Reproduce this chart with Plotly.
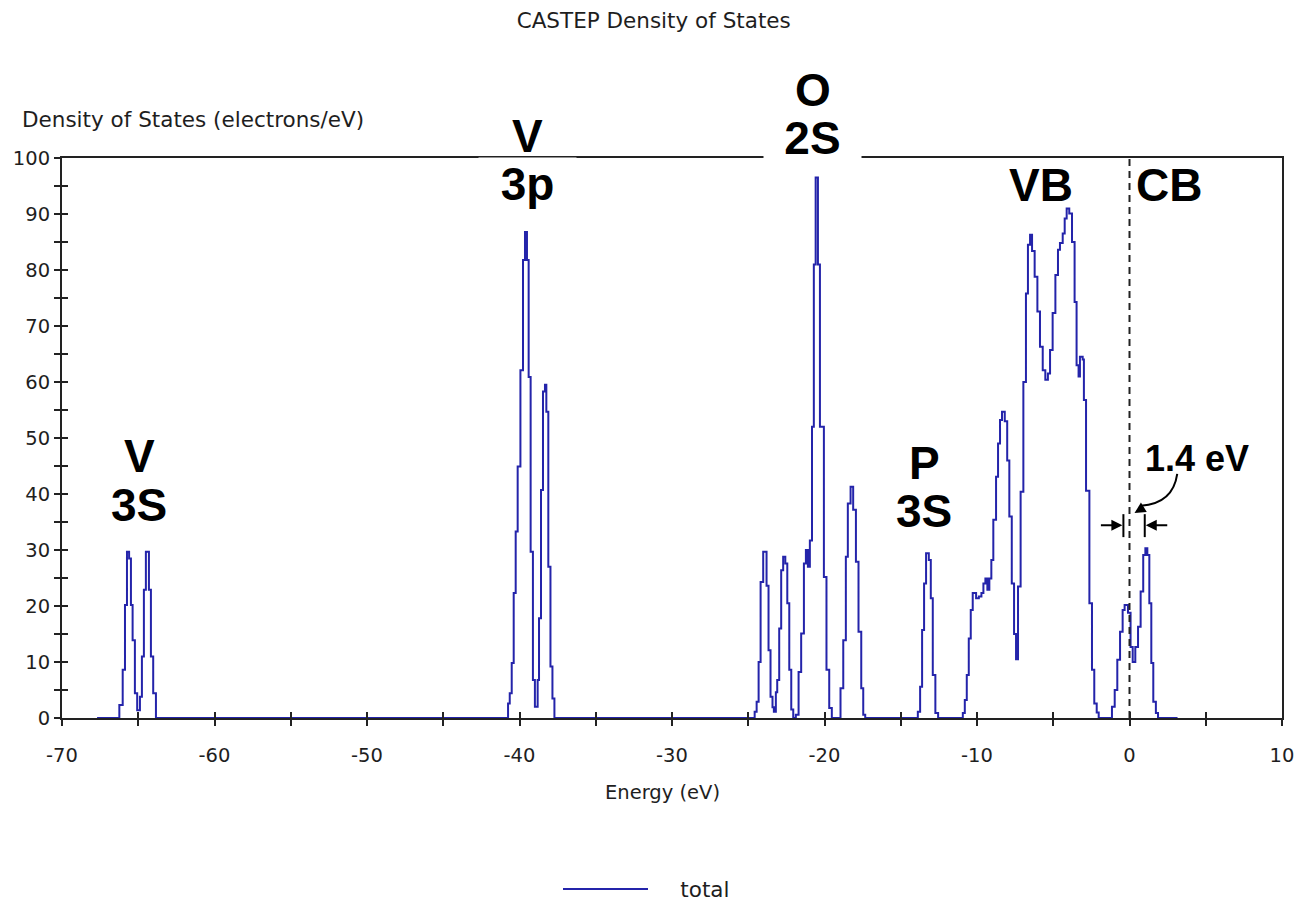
import plotly.graph_objects as go

# Total density of states (electrons/eV) against energy (eV), stepwise bins.
# Each band group is listed separately; the curve is zero between groups.
e_window = [-67.7, 3.15]

e_v3s = [-66.24, -66.02, -65.87, -65.74, -65.60, -65.48, -65.37, -65.22, -65.07,
         -64.89, -64.76, -64.63, -64.50, -64.30, -64.17, -64.02, -63.84]
dos_v3s = [2.3, 8.6, 20.2, 29.7, 28.5, 20.2, 13.9, 4.4, 1.4,
           3.8, 11.0, 22.9, 29.7, 22.9, 11.0, 4.4, 0.0]

e_v3p = [-40.75, -40.64, -40.51, -40.38, -40.25, -40.12, -39.94, -39.77, -39.64,
         -39.51, -39.40, -39.27, -39.12, -38.99, -38.81, -38.72, -38.59, -38.46,
         -38.33, -38.24, -38.11, -37.97, -37.84, -37.71]
dos_v3p = [2.6, 4.4, 9.8, 22.3, 33.3, 44.9, 62.1, 81.8, 86.8,
           81.8, 60.9, 29.7, 6.8, 2.0, 6.8, 17.8, 40.7, 58.3,
           59.5, 54.7, 27.0, 9.2, 3.5, 0.0]

e_o2s = [-24.58, -24.45, -24.32, -24.19, -24.02, -23.80, -23.67, -23.54, -23.41,
         -23.32, -23.19, -23.10, -22.97, -22.84, -22.71, -22.57, -22.44, -22.31,
         -22.18, -22.05, -21.88, -21.70, -21.53, -21.35, -21.22, -21.09, -20.96,
         -20.82, -20.70, -20.58, -20.43, -20.30, -20.04, -19.87, -19.69, -19.52,
         -18.95, -18.77, -18.60, -18.47, -18.29, -18.12, -17.94, -17.77, -17.59,
         -17.46, -17.33]
dos_o2s = [1.1, 2.9, 10.0, 24.3, 29.7, 23.6, 12.1, 3.8, 1.9,
           1.1, 4.6, 6.8, 16.0, 26.4, 28.8, 27.6, 20.5, 8.6,
           1.5, 0.0, 0.6, 8.2, 15.1, 27.6, 30.0, 27.0, 31.7,
           52.0, 81.0, 96.5, 81.0, 52.0, 25.2, 8.6, 1.8, 0.0,
           5.3, 13.9, 28.8, 38.3, 41.3, 37.2, 27.9, 15.4, 5.3,
           0.6, 0.0]

e_p3s = [-13.88, -13.73, -13.60, -13.47, -13.34, -13.16, -13.03, -12.90, -12.73, -12.55]
dos_p3s = [1.1, 5.6, 15.7, 24.0, 29.4, 28.2, 21.4, 7.7, 0.9, 0.0]

e_vb = [-10.93, -10.80, -10.67, -10.54, -10.41, -10.28, -10.06, -9.88, -9.71, -9.58,
        -9.45, -9.32, -9.19, -9.06, -8.93, -8.75, -8.62, -8.49, -8.36, -8.18,
        -8.02, -7.88, -7.72, -7.57, -7.44, -7.31, -7.14, -6.96, -6.79, -6.66,
        -6.52, -6.39, -6.22, -6.04, -5.87, -5.69, -5.52, -5.35, -5.21, -5.04,
        -4.86, -4.69, -4.56, -4.38, -4.25, -4.12, -3.95, -3.77, -3.60, -3.47,
        -3.34, -3.25, -3.07, -2.99, -2.85, -2.63, -2.46, -2.31, -2.15, -2.02]
dos_vb = [0.9, 3.2, 7.7, 14.2, 19.3, 22.3, 21.4, 21.7, 22.3, 24.0,
          24.9, 22.9, 24.9, 28.2, 35.4, 43.1, 49.0, 53.2, 54.7, 53.0,
          46.0, 36.0, 24.0, 15.0, 10.5, 23.5, 40.4, 60.0, 75.8, 84.5,
          86.3, 83.4, 78.8, 72.6, 66.3, 62.1, 60.4, 61.5, 65.7, 72.3,
          79.1, 83.6, 84.8, 86.5, 89.2, 91.0, 90.1, 85.0, 74.3, 63.0,
          61.0, 64.5, 64.0, 56.8, 40.6, 20.5, 8.6, 2.6, 1.0, 0.0]

e_cb = [-1.15, -0.97, -0.80, -0.62, -0.45, -0.32, -0.10, 0.07, 0.21, 0.38,
        0.56, 0.73, 0.90, 1.04, 1.17, 1.30, 1.43, 1.56, 1.73, 1.87]
dos_cb = [2.0, 5.0, 10.4, 15.4, 19.3, 20.2, 18.8, 12.7, 10.0, 12.7,
          16.3, 22.6, 29.1, 30.3, 29.1, 20.5, 9.8, 2.9, 0.9, 0.0]

x_tickvals = [-70, -60, -50, -40, -30, -20, -10, 0, 10]
x_ticktext = ["-70", "-60", "-50", "-40", "-30", "-20", "-10", "0", "10"]
y_tickvals = [0, 10, 20, 30, 40, 50, 60, 70, 80, 90, 100]

fermi_level = 0.0
band_gap = 1.4          # eV
gap_low = -0.40         # lower edge of the marked gap
gap_high = gap_low + band_gap

energy = ([e_window[0]] + e_v3s + e_v3p + e_o2s + e_p3s + e_vb + e_cb + [e_window[1]])
dos = ([0.0] + dos_v3s + dos_v3p + dos_o2s + dos_p3s + dos_vb + dos_cb + [0.0])

LINE_BLUE = "#2424aa"
INK = "#1e1e1e"
AXIS = "#222222"
SMALL = dict(family="DejaVu Sans", size=19.5, color=INK)
MEDIUM = dict(family="DejaVu Sans", size=21.5, color=INK)
BIG = dict(family="Liberation Sans", size=46, color="#000000", weight="bold")

fig = go.Figure()
fig.add_trace(go.Scatter(
    x=energy, y=dos, mode="lines", name="\u00a0\u00a0\u00a0\u00a0total",
    line=dict(color=LINE_BLUE, width=2, shape="hv"),
    xaxis="x", yaxis="y",
))
# empty companion trace so the overlay axes (inner tick halves) get drawn
fig.add_trace(go.Scatter(x=[], y=[], xaxis="x2", yaxis="y2", showlegend=False,
                         hoverinfo="skip"))

tick_common = dict(tickwidth=2, tickcolor=AXIS, ticklen=6)
minor_out = dict(dtick=5, tick0=0, ticks="outside", showgrid=False, **tick_common)
minor_in = dict(dtick=5, tick0=0, ticks="inside", showgrid=False, **tick_common)
fig.update_layout(
    template="none",
    width=1297, height=905,
    paper_bgcolor="white", plot_bgcolor="white",
    margin=dict(l=62, r=15, t=158, b=187, autoexpand=False),
    font=SMALL,
    title=dict(text="CASTEP Density of States", font=MEDIUM,
               x=0.504, xref="container", xanchor="center",
               y=1 - 20 / 905, yref="container", yanchor="middle"),
    showlegend=True,
    legend=dict(orientation="h", x=558 / 1297, xref="container", xanchor="left",
                y=1 - 889 / 905, yref="container", yanchor="middle",
                font=MEDIUM, itemwidth=85, bgcolor="rgba(0,0,0,0)"),
    xaxis=dict(range=[-70, 10], tickmode="array", tickvals=x_tickvals,
               ticktext=x_ticktext, showgrid=False, zeroline=False, automargin=False,
               showline=True, linecolor=AXIS, linewidth=2, mirror=True,
               ticks="outside", **tick_common, minor=minor_out,
               tickfont=SMALL, ticklabelstandoff=13, layer="below traces"),
    yaxis=dict(range=[0, 100], tickmode="array", tickvals=y_tickvals,
               showgrid=False, zeroline=False, automargin=False,
               showline=True, linecolor=AXIS, linewidth=2, mirror=True,
               ticks="outside", **tick_common, minor=minor_out,
               tickfont=SMALL, ticklabelstandoff=0, layer="below traces"),
    # inward halves of the crossing tick marks
    xaxis2=dict(range=[-70, 10], tickmode="array", tickvals=x_tickvals,
                overlaying="x", anchor="y2", side="bottom", automargin=False,
                showgrid=False, zeroline=False, showline=False,
                ticks="inside", **tick_common, showticklabels=False, minor=minor_in),
    yaxis2=dict(range=[0, 100], tickmode="array", tickvals=y_tickvals,
                overlaying="y", anchor="x2", side="left", automargin=False,
                showgrid=False, zeroline=False, showline=False,
                ticks="inside", **tick_common, showticklabels=False, minor=minor_in),
)

# Fermi level marker
fig.add_shape(type="line", xref="x", yref="y", x0=fermi_level, x1=fermi_level,
              y0=0, y1=100, line=dict(color=AXIS, width=2, dash="7px,5px"))

# Axis titles
fig.add_annotation(text="Density of States (electrons/eV)", xref="paper", yref="paper",
                   x=(20 - 62) / 1220, y=(718 - 119) / 560, xanchor="left",
                   yanchor="middle", showarrow=False, font=MEDIUM)
fig.add_annotation(text="Energy (eV)", xref="paper", yref="paper",
                   x=(662 - 62) / 1220, y=(718 - 792) / 560, xanchor="center",
                   yanchor="middle", showarrow=False, font=SMALL)

# Band labels (heights given in DOS units; paper y = DOS / 100)
def label(txt, x, y, size=46, boxed=False):
    kw = dict(text=txt, x=x, y=y / 100, xref="x", yref="paper", showarrow=False,
              xanchor="center", yanchor="middle",
              font=dict(BIG, size=size))
    if boxed:
        kw.update(bgcolor="white", width=95, height=50, borderpad=1)
    fig.add_annotation(**kw)

label("3p", -39.49, 95.3, boxed=True)
label("V", -39.49, 103.9)
label("2S", -20.76, 103.5, boxed=True)
label("O", -20.76, 112.1)
label("V", -64.95, 46.7)
label("3S", -64.95, 38.1)
label("P", -13.45, 45.5)
label("3S", -13.45, 36.9)
label("VB", -5.78, 95.2)
label("CB", 2.61, 95.2)
label(f"{band_gap} eV", 4.44, 46.4, size=36)

# Curved pointer from the gap label to the Fermi level
fig.add_shape(type="path", xref="x", yref="y",
              path="M 3.13,43.6 Q 2.85,38.3 0.75,37.9",
              line=dict(color="#000000", width=2))
fig.add_annotation(x=0.33, y=36.6, xref="x", yref="y", ax=8, ay=-5, text="",
                   showarrow=True, arrowhead=2, arrowsize=1.1, arrowwidth=2,
                   arrowcolor="#000000")

# Gap edge bars with inward arrows
for xe in (gap_low, gap_high):
    fig.add_shape(type="line", xref="x", yref="y", x0=xe, x1=xe, y0=32.3, y1=36.4,
                  line=dict(color="#000000", width=2))
fig.add_annotation(x=gap_low, y=34.4, xref="x", yref="y", ax=-24, ay=0, text="",
                   showarrow=True, arrowhead=2, arrowsize=1.1, arrowwidth=2,
                   arrowcolor="#000000", standoff=1)
fig.add_annotation(x=gap_high, y=34.4, xref="x", yref="y", ax=24, ay=0, text="",
                   showarrow=True, arrowhead=2, arrowsize=1.1, arrowwidth=2,
                   arrowcolor="#000000", standoff=1)

fig.write_html("out.html")
